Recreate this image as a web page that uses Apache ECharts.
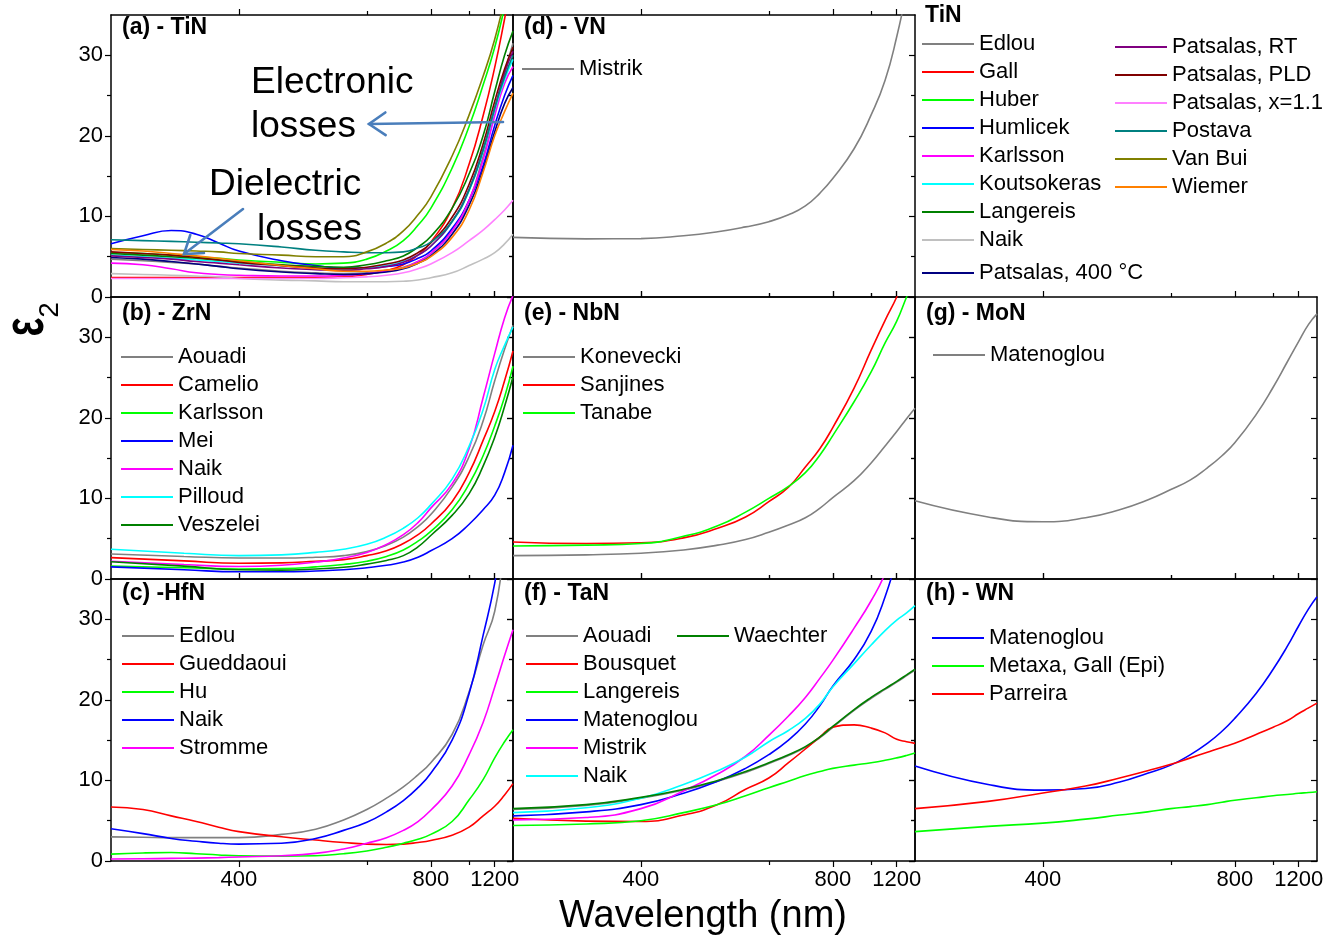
<!DOCTYPE html>
<html>
<head>
<meta charset="utf-8">
<script src="https://cdn.jsdelivr.net/npm/echarts@6/dist/echarts.min.js"></script>
<style>
  html, body { margin: 0; padding: 0; background: #fff; }
  #chart { width: 1326px; height: 952px; }
</style>
</head>
<body>
<div id="chart"></div>
<script>
// ---------- wavelength grids (nm) ----------
const wlFine = [300, 320, 340, 360, 380, 400, 450, 500, 550, 600, 650, 700, 750, 800, 900, 1000, 1100, 1200, 1300, 1400];
const wlStd  = [300, 350, 400, 450, 500, 550, 600, 650, 700, 750, 800, 900, 1000, 1100, 1200, 1300, 1400];

// ---------- axis ticks ----------
const xMajorTicks = [400, 800, 1200];
const xMinorTicks = [600, 1000];
const yMajorTicks = [0, 10, 20, 30];
const yMinorTicks = [5, 15, 25];

// ---------- (a) TiN, epsilon_2 on wlFine ----------
const tinEdlou       = [4.7, 4.5, 4.3, 4.1, 3.8, 3.6, 3.2, 3.0, 2.9, 3.0, 3.3, 3.7, 4.4, 5.4, 8.3, 12.0, 17.5, 23.0, 27.8, 31.5];
const tinGall        = [2.4, 2.4, 2.4, 2.4, 2.4, 2.4, 2.4, 2.4, 2.5, 2.8, 3.3, 4.0, 5.2, 6.8, 11.0, 16.5, 22.5, 28.5, 34.5, 40.0];
const tinHuber       = [5.5, 5.4, 5.2, 5.0, 4.8, 4.6, 4.3, 4.1, 4.2, 4.7, 5.7, 7.0, 8.9, 11.0, 16.0, 21.2, 26.3, 31.0, 36.0, 41.0];
const tinHumlicek    = [6.6, 7.6, 8.25, 7.8, 6.7, 5.7, 4.5, 3.9, 3.6, 3.6, 3.8, 4.1, 4.8, 5.7, 8.5, 12.0, 16.3, 21.3, 25.0, 27.5];
const tinKarlsson    = [4.2, 4.0, 3.5, 3.0, 2.8, 2.7, 2.6, 2.6, 2.7, 2.9, 3.2, 3.6, 4.4, 5.4, 8.2, 12.0, 17.0, 22.5, 26.5, 28.6];
const tinKoutsokeras = [5.2, 5.0, 4.8, 4.6, 4.4, 4.2, 3.9, 3.6, 3.5, 3.6, 3.9, 4.4, 5.2, 6.3, 9.3, 13.2, 18.0, 23.2, 27.0, 29.5];
const tinLangereis   = [5.4, 5.2, 5.0, 4.8, 4.6, 4.4, 4.0, 3.8, 3.7, 4.0, 4.5, 5.1, 6.2, 7.5, 11.0, 15.3, 20.0, 25.5, 30.0, 33.0];
const tinNaik        = [2.9, 2.8, 2.7, 2.6, 2.5, 2.3, 2.1, 2.0, 1.9, 1.9, 1.9, 1.95, 2.1, 2.4, 3.0, 3.9, 4.7, 5.5, 6.6, 7.8];
const tinPatsalas400 = [4.9, 4.7, 4.4, 4.1, 3.8, 3.5, 3.1, 2.9, 2.8, 2.9, 3.1, 3.5, 4.2, 5.1, 7.8, 11.4, 15.8, 20.5, 24.0, 26.0];
const tinPatsalasRT  = [5.1, 4.9, 4.7, 4.4, 4.2, 4.0, 3.6, 3.4, 3.3, 3.5, 3.8, 4.3, 5.2, 6.3, 9.4, 13.4, 18.3, 23.5, 27.8, 30.5];
const tinPatsalasPLD = [5.6, 5.4, 5.2, 4.9, 4.6, 4.3, 3.9, 3.6, 3.5, 3.7, 4.1, 4.6, 5.5, 6.7, 9.9, 14.0, 19.0, 24.3, 28.3, 31.0];
const tinPatsalasX11 = [2.3, 2.3, 2.3, 2.3, 2.3, 2.3, 2.3, 2.3, 2.4, 2.5, 2.7, 3.0, 3.5, 4.1, 5.5, 7.0, 8.3, 9.6, 10.8, 12.0];
const tinPostava     = [7.1, 7.0, 6.9, 6.8, 6.7, 6.6, 6.2, 5.8, 5.6, 5.5, 5.5, 5.6, 6.1, 6.8, 9.4, 13.3, 18.3, 23.5, 27.3, 30.0];
const tinVanBui      = [6.0, 5.9, 5.8, 5.7, 5.6, 5.4, 5.2, 5.0, 5.0, 5.6, 6.7, 8.2, 10.2, 12.4, 17.5, 22.6, 27.4, 32.0, 37.0, 42.0];
const tinWiemer      = [5.9, 5.7, 5.4, 5.1, 4.8, 4.5, 3.9, 3.5, 3.2, 3.2, 3.35, 3.6, 4.2, 5.0, 7.4, 10.8, 15.5, 20.0, 23.0, 25.3];

// ---------- (d) VN, wlStd ----------
const vnMistrik = [7.4, 7.22, 7.25, 7.6, 8.1, 8.7, 9.35, 10.2, 11.3, 12.9, 14.7, 18.4, 22.6, 26.9, 32.3, 38.0, 44.0];

// ---------- (b) ZrN, wlStd ----------
const zrAouadi   = [3.1, 2.8, 2.6, 2.6, 2.7, 2.9, 3.4, 4.2, 5.2, 6.5, 8.0, 11.4, 15.2, 19.6, 24.6, 28.5, 31.5];
const zrCamelio  = [2.65, 2.25, 1.95, 2.0, 2.2, 2.4, 2.9, 3.5, 4.4, 5.5, 6.8, 9.6, 13.2, 17.2, 20.8, 24.6, 28.3];
const zrKarlsson = [1.6, 1.4, 1.25, 1.3, 1.5, 1.8, 2.2, 2.8, 3.6, 4.7, 5.9, 8.6, 11.8, 15.3, 19.0, 22.6, 26.4];
const zrMei      = [1.5, 1.15, 0.9, 0.9, 1.0, 1.15, 1.4, 1.7, 2.1, 2.7, 3.5, 5.0, 6.8, 8.6, 10.4, 13.2, 16.6];
const zrNaik     = [2.2, 1.8, 1.55, 1.7, 2.1, 2.6, 3.3, 4.3, 5.5, 7.0, 8.8, 11.8, 16.2, 22.5, 28.0, 32.4, 35.2];
const zrPilloud  = [3.7, 3.2, 2.9, 3.0, 3.3, 3.7, 4.3, 5.2, 6.3, 7.6, 9.2, 12.4, 16.5, 21.0, 26.0, 29.0, 31.3];
const zrVeszelei = [2.15, 1.6, 1.15, 1.1, 1.25, 1.45, 1.85, 2.3, 2.9, 4.0, 5.4, 7.9, 10.6, 14.0, 17.6, 21.4, 25.1];

// ---------- (e) NbN, wlStd ----------
const nbKonevecki = [2.9, 3.0, 3.2, 3.6, 4.2, 4.9, 5.8, 6.7, 7.6, 8.8, 10.1, 12.2, 14.4, 16.5, 18.3, 19.9, 21.2];
const nbSanjines  = [4.6, 4.4, 4.5, 5.1, 6.3, 7.7, 9.6, 11.4, 13.9, 16.2, 18.8, 23.7, 28.4, 32.1, 35.0, 38.0, 40.0];
const nbTanabe    = [4.1, 4.2, 4.4, 5.3, 6.6, 8.3, 10.0, 11.5, 13.2, 15.4, 17.8, 22.0, 25.7, 29.3, 32.0, 35.0, 37.5];

// ---------- (g) MoN, wlStd ----------
const moMatenoglou = [9.7, 7.7, 7.1, 7.6, 8.6, 9.8, 11.1, 12.3, 13.8, 15.3, 16.9, 20.4, 23.8, 26.9, 29.5, 31.6, 32.9];

// ---------- (c) HfN, wlFine ----------
const hfEdlou     = [3.0, 2.95, 2.9, 2.9, 2.9, 2.9, 3.3, 3.95, 5.1, 6.4, 7.8, 9.2, 10.7, 12.2, 15.7, 21.0, 26.8, 31.0, 39.0, 47.0];
const hfGueddaoui = [6.7, 6.4, 5.6, 4.9, 4.2, 3.65, 3.0, 2.6, 2.3, 2.1, 2.05, 2.1, 2.3, 2.55, 3.2, 4.2, 5.6, 6.8, 8.2, 9.6];
const hfHu        = [0.85, 1.0, 1.05, 0.9, 0.75, 0.65, 0.6, 0.65, 0.9, 1.25, 1.7, 2.2, 2.7, 3.3, 4.9, 7.6, 10.1, 12.8, 14.8, 16.3];
const hfNaik      = [4.0, 3.4, 2.8, 2.45, 2.2, 2.1, 2.2, 2.8, 3.8, 4.8, 6.1, 7.5, 9.1, 10.9, 15.0, 20.8, 28.0, 34.5, 42.0, 50.0];
const hfStromme   = [0.25, 0.28, 0.32, 0.36, 0.42, 0.5, 0.65, 0.95, 1.5, 2.2, 2.9, 3.8, 4.9, 6.3, 9.3, 13.2, 17.2, 21.6, 25.5, 28.7];

// ---------- (f) TaN, wlStd ----------
const taAouadi     = [6.4, 6.9, 7.8, 8.8, 9.9, 11.0, 12.1, 13.1, 14.1, 15.3, 16.6, 18.7, 20.2, 21.3, 22.2, 23.0, 23.7];
const taBousquet   = [5.3, 4.95, 4.9, 5.7, 7.0, 8.9, 10.3, 12.2, 13.9, 15.4, 16.6, 16.9, 16.5, 15.9, 15.1, 14.8, 14.6];
const taLangereis  = [4.4, 4.6, 5.0, 6.0, 7.0, 8.1, 9.1, 9.9, 10.6, 11.1, 11.5, 11.9, 12.2, 12.5, 12.8, 13.1, 13.4];
const taMatenoglou = [5.6, 6.1, 7.0, 8.4, 9.9, 11.5, 13.2, 15.0, 17.0, 19.3, 21.7, 25.0, 28.5, 32.8, 37.5, 42.0, 47.0];
const taMistrik    = [5.1, 5.4, 6.5, 8.7, 10.8, 13.0, 15.6, 18.0, 20.3, 22.7, 24.9, 28.9, 32.3, 35.7, 40.0, 44.0, 48.0];
const taNaik       = [6.0, 6.6, 7.8, 9.5, 11.2, 12.9, 14.8, 16.2, 17.7, 19.5, 21.6, 24.5, 26.8, 28.6, 29.9, 30.8, 31.7];
const taWaechter   = [6.5, 7.0, 7.9, 8.9, 10.0, 11.1, 12.2, 13.2, 14.2, 15.4, 16.7, 18.8, 20.3, 21.4, 22.3, 23.1, 23.8];

// ---------- (h) WN, wlStd ----------
const wnMatenoglou = [11.8, 9.5, 8.8, 9.0, 9.8, 10.9, 11.9, 13.2, 14.6, 16.1, 17.7, 20.8, 23.8, 26.6, 29.2, 31.3, 32.8];
const wnMetaxaGall = [3.65, 4.3, 4.7, 5.2, 5.7, 6.1, 6.5, 6.75, 7.0, 7.3, 7.55, 7.85, 8.1, 8.25, 8.4, 8.5, 8.6];
const wnParreira   = [6.5, 7.4, 8.45, 9.3, 10.3, 11.2, 12.0, 12.8, 13.5, 14.1, 14.6, 15.7, 16.6, 17.4, 18.3, 19.0, 19.6];

// ---------- colours ----------
const GRAY = '#808080', RED = '#ff0000', GREEN = '#00ff00', BLUE = '#0000ff', MAGENTA = '#ff00ff',
      CYAN = '#00ffff', DKGREEN = '#008000', LTGRAY = '#c0c0c0', NAVY = '#000080', PURPLE = '#800080',
      WINE = '#800000', PINK = '#ff80ff', TEAL = '#008080', OLIVE = '#808000', ORANGE = '#ff8000';

const FONT = "'Liberation Sans', Arial, Helvetica, sans-serif";

// ---------- panel layout ----------
const COL_X = [111, 513, 915];
const ROW_Y = [15, 297, 579];
const GW = 402, GH = 282;

// x axis is linear in inverse wavelength (photon energy), labelled in nm
const inv = l => 1e4 / l;
const X_MIN = inv(1400), X_MAX = inv(300);

const panels = [
  { key: 'TiN', label: '(a) - TiN', col: 0, row: 0, wl: wlFine,
    lines: [['Edlou', GRAY, tinEdlou], ['Gall', RED, tinGall], ['Huber', GREEN, tinHuber],
            ['Humlicek', BLUE, tinHumlicek], ['Karlsson', MAGENTA, tinKarlsson],
            ['Koutsokeras', CYAN, tinKoutsokeras], ['Langereis', DKGREEN, tinLangereis],
            ['Naik', LTGRAY, tinNaik], ['Patsalas, 400 °C', NAVY, tinPatsalas400],
            ['Patsalas, RT', PURPLE, tinPatsalasRT], ['Patsalas, PLD', WINE, tinPatsalasPLD],
            ['Patsalas, x=1.1', PINK, tinPatsalasX11], ['Postava', TEAL, tinPostava],
            ['Van Bui', OLIVE, tinVanBui], ['Wiemer', ORANGE, tinWiemer]],
    legends: [{ left: 922, top: 32, names: ['Edlou', 'Gall', 'Huber', 'Humlicek', 'Karlsson', 'Koutsokeras', 'Langereis', 'Naik'] },
              { left: 922, top: 261, names: ['Patsalas, 400 °C'] },
              { left: 1115, top: 35, names: ['Patsalas, RT', 'Patsalas, PLD', 'Patsalas, x=1.1', 'Postava', 'Van Bui', 'Wiemer'] }] },
  { key: 'VN', label: '(d) - VN', col: 1, row: 0, wl: wlStd,
    lines: [['Mistrik', GRAY, vnMistrik]],
    legends: [{ left: 522, top: 57, names: ['Mistrik'] }] },
  { key: 'ZrN', label: '(b) - ZrN', col: 0, row: 1, wl: wlStd,
    lines: [['Aouadi', GRAY, zrAouadi], ['Camelio', RED, zrCamelio], ['Karlsson', GREEN, zrKarlsson],
            ['Mei', BLUE, zrMei], ['Naik', MAGENTA, zrNaik], ['Pilloud', CYAN, zrPilloud],
            ['Veszelei', DKGREEN, zrVeszelei]],
    legends: [{ left: 121, top: 345, names: ['Aouadi', 'Camelio', 'Karlsson', 'Mei', 'Naik', 'Pilloud', 'Veszelei'] }] },
  { key: 'NbN', label: '(e) - NbN', col: 1, row: 1, wl: wlStd,
    lines: [['Konevecki', GRAY, nbKonevecki], ['Sanjines', RED, nbSanjines], ['Tanabe', GREEN, nbTanabe]],
    legends: [{ left: 523, top: 345, names: ['Konevecki', 'Sanjines', 'Tanabe'] }] },
  { key: 'MoN', label: '(g) - MoN', col: 2, row: 1, wl: wlStd,
    lines: [['Matenoglou', GRAY, moMatenoglou]],
    legends: [{ left: 933, top: 343, names: ['Matenoglou'] }] },
  { key: 'HfN', label: '(c) -HfN', col: 0, row: 2, wl: wlFine,
    lines: [['Edlou', GRAY, hfEdlou], ['Gueddaoui', RED, hfGueddaoui], ['Hu', GREEN, hfHu],
            ['Naik', BLUE, hfNaik], ['Stromme', MAGENTA, hfStromme]],
    legends: [{ left: 122, top: 624, names: ['Edlou', 'Gueddaoui', 'Hu', 'Naik', 'Stromme'] }] },
  { key: 'TaN', label: '(f) - TaN', col: 1, row: 2, wl: wlStd,
    lines: [['Aouadi', GRAY, taAouadi], ['Bousquet', RED, taBousquet], ['Langereis', GREEN, taLangereis],
            ['Matenoglou', BLUE, taMatenoglou], ['Mistrik', MAGENTA, taMistrik], ['Naik', CYAN, taNaik],
            ['Waechter', DKGREEN, taWaechter]],
    legends: [{ left: 526, top: 624, names: ['Aouadi', 'Bousquet', 'Langereis', 'Matenoglou', 'Mistrik', 'Naik'] },
              { left: 677, top: 624, names: ['Waechter'] }] },
  { key: 'WN', label: '(h) - WN', col: 2, row: 2, wl: wlStd,
    lines: [['Matenoglou', BLUE, wnMatenoglou], ['Metaxa, Gall (Epi)', GREEN, wnMetaxaGall], ['Parreira', RED, wnParreira]],
    legends: [{ left: 932, top: 626, names: ['Matenoglou', 'Metaxa, Gall (Epi)', 'Parreira'] }] }
];

const labelTop = { 0: 16, 1: 302, 2: 582 };

const grid = [], xAxis = [], yAxis = [], series = [], legend = [], title = [];
const lineBlack = { show: true, onZero: false, lineStyle: { color: '#000', width: 1.5 } };
const tickStyle = { color: '#000', width: 1.2 };
const textBase = { fontFamily: FONT, color: '#000' };

panels.forEach((p, i) => {
  const bottomRow = p.row === 2, leftCol = p.col === 0;
  grid.push({ left: COL_X[p.col], top: ROW_Y[p.row], width: GW, height: GH, containLabel: false, outerBoundsMode: 'none' });

  const xb = { type: 'value', gridIndex: i, min: X_MIN, max: X_MAX, inverse: true, splitLine: { show: false }, silent: true };
  xAxis.push(Object.assign({}, xb, { position: 'bottom', axisLine: lineBlack,
    axisTick: { show: true, inside: !bottomRow, length: 6, lineStyle: tickStyle, customValues: xMajorTicks.map(inv) },
    axisLabel: { show: bottomRow, customValues: xMajorTicks.map(inv), formatter: v => String(Math.round(1e4 / v)),
                 fontSize: 22, margin: 8, ...textBase } }));
  xAxis.push(Object.assign({}, xb, { position: 'bottom', axisLine: { show: false, onZero: false },
    axisTick: { show: true, inside: !bottomRow, length: 4, lineStyle: tickStyle, customValues: xMinorTicks.map(inv) },
    axisLabel: { show: false } }));
  xAxis.push(Object.assign({}, xb, { position: 'top', axisLine: lineBlack,
    axisTick: { show: true, inside: false, length: 6, lineStyle: tickStyle, customValues: xMajorTicks.map(inv) },
    axisLabel: { show: false } }));
  xAxis.push(Object.assign({}, xb, { position: 'top', axisLine: { show: false, onZero: false },
    axisTick: { show: true, inside: false, length: 4, lineStyle: tickStyle, customValues: xMinorTicks.map(inv) },
    axisLabel: { show: false } }));

  const yb = { type: 'value', gridIndex: i, min: 0, max: 35, splitLine: { show: false }, silent: true };
  yAxis.push(Object.assign({}, yb, { position: 'left', axisLine: lineBlack,
    axisTick: { show: true, inside: false, length: 6, lineStyle: tickStyle, customValues: yMajorTicks },
    axisLabel: { show: leftCol, customValues: yMajorTicks, fontSize: 22, margin: 8, ...textBase } }));
  yAxis.push(Object.assign({}, yb, { position: 'left', axisLine: { show: false, onZero: false },
    axisTick: { show: true, inside: false, length: 4, lineStyle: tickStyle, customValues: yMinorTicks },
    axisLabel: { show: false } }));
  yAxis.push(Object.assign({}, yb, { position: 'right', axisLine: lineBlack,
    axisTick: { show: true, inside: true, length: 6, lineStyle: tickStyle, customValues: yMajorTicks },
    axisLabel: { show: false } }));
  yAxis.push(Object.assign({}, yb, { position: 'right', axisLine: { show: false, onZero: false },
    axisTick: { show: true, inside: true, length: 4, lineStyle: tickStyle, customValues: yMinorTicks },
    axisLabel: { show: false } }));

  p.lines.forEach(([name, color, vals]) => {
    series.push({
      type: 'line', name: p.key + '|' + name,
      xAxisIndex: 4 * i, yAxisIndex: 4 * i,
      data: p.wl.map((l, k) => [inv(l), vals[k]]),
      showSymbol: false, symbol: 'none', smooth: 0.5, clip: true, silent: true,
      lineStyle: { color, width: 1.6 }, itemStyle: { color },
      emphasis: { disabled: true }, z: 2
    });
  });

  p.legends.forEach(lg => {
    legend.push({
      show: true, orient: 'vertical', left: lg.left, top: lg.top, padding: 0, itemGap: 4,
      itemWidth: 52, itemHeight: 2, icon: 'rect', selectedMode: false,
      data: lg.names.map(n => p.key + '|' + n),
      formatter: n => n.split('|')[1],
      textStyle: { fontSize: 22, lineHeight: 24, ...textBase }
    });
  });

  title.push({
    text: p.label, left: COL_X[p.col] + 11, top: labelTop[p.row], padding: 0,
    textStyle: { fontSize: 23, fontWeight: 'bold', lineHeight: 23, ...textBase }
  });
});

title.push({ text: 'TiN', left: 925, top: 4, padding: 0,
  textStyle: { fontSize: 23, fontWeight: 'bold', lineHeight: 23, ...textBase } });

// ---------- annotations ----------
const ARROW = { stroke: '#4a7ebb', lineWidth: 2.6, fill: 'none', lineCap: 'round', lineJoin: 'miter' };
function arrow(x1, y1, x2, y2) {
  const a = Math.atan2(y1 - y2, x1 - x2), L = 20, s = 0.6;
  const w1 = [x2 + L * Math.cos(a + s), y2 + L * Math.sin(a + s)];
  const w2 = [x2 + L * Math.cos(a - s), y2 + L * Math.sin(a - s)];
  return [
    { type: 'polyline', z: 100, shape: { points: [[x1, y1], [x2, y2]] }, style: ARROW },
    { type: 'polyline', z: 100, shape: { points: [w1, [x2, y2], w2] }, style: ARROW }
  ];
}
function label(text, x, y, size) {
  return { type: 'text', x, y, z: 100,
    style: { text, fontSize: size, fontFamily: FONT, fill: '#000', align: 'left', verticalAlign: 'middle' } };
}

const graphic = [
  label('Electronic', 251, 83, 37),
  label('losses', 251, 127, 37),
  label('Dielectric', 209, 185, 37),
  label('losses', 257, 230, 37),
  ...arrow(503, 122, 369, 124),
  ...arrow(243, 209, 184, 254),
  // y-axis title: epsilon with subscript 2, reading bottom to top
  { type: 'text', x: 27, y: 327, rotation: Math.PI / 2, scaleY: 1.45, z: 100,
    style: { text: 'ε', fontSize: 40, fontWeight: 'bold', fontFamily: FONT, fill: '#000', align: 'center', verticalAlign: 'middle' } },
  { type: 'text', x: 50, y: 310, rotation: Math.PI / 2, z: 100,
    style: { text: '2', fontSize: 28, fontFamily: FONT, fill: '#000', align: 'center', verticalAlign: 'middle' } },
  // x-axis title
  { type: 'text', x: 703, y: 917, z: 100,
    style: { text: 'Wavelength (nm)', fontSize: 38, fontFamily: FONT, fill: '#000', align: 'center', verticalAlign: 'middle' } }
];

const chart = echarts.init(document.getElementById('chart'), null, { renderer: 'canvas' });
chart.setOption({
  animation: false,
  backgroundColor: '#fff',
  title, grid, xAxis, yAxis, series, legend, graphic,
  tooltip: { show: false }
});
</script>
</body>
</html>
